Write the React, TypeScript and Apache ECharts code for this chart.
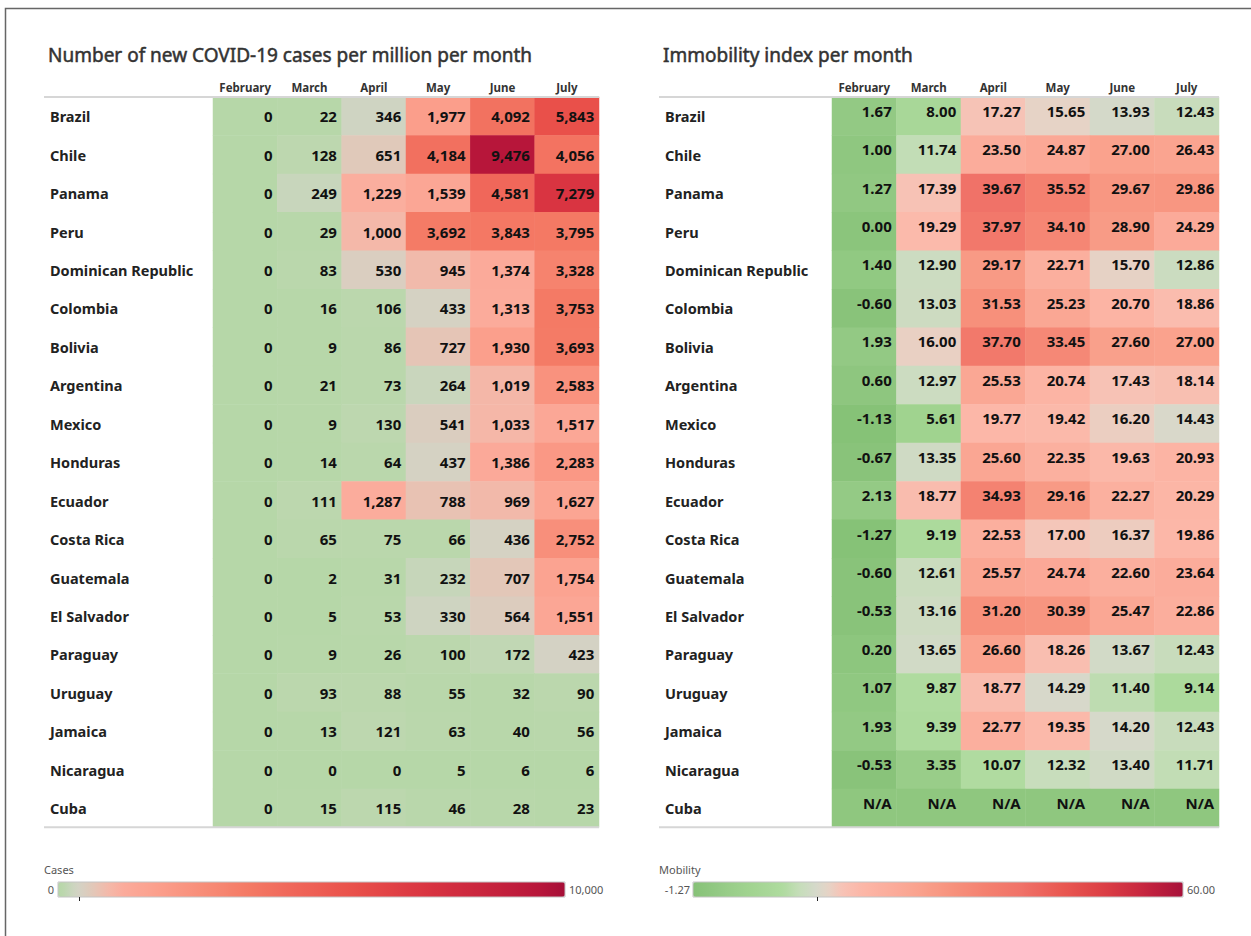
import React, { useEffect, useRef } from 'react';
import * as echarts from 'echarts';

const months = ['February', 'March', 'April', 'May', 'June', 'July'];
const countries = [
  'Brazil', 'Chile', 'Panama', 'Peru', 'Dominican Republic', 'Colombia', 'Bolivia',
  'Argentina', 'Mexico', 'Honduras', 'Ecuador', 'Costa Rica', 'Guatemala',
  'El Salvador', 'Paraguay', 'Uruguay', 'Jamaica', 'Nicaragua', 'Cuba',
];
const cases: number[][] = [
  [0, 22, 346, 1977, 4092, 5843],
  [0, 128, 651, 4184, 9476, 4056],
  [0, 249, 1229, 1539, 4581, 7279],
  [0, 29, 1000, 3692, 3843, 3795],
  [0, 83, 530, 945, 1374, 3328],
  [0, 16, 106, 433, 1313, 3753],
  [0, 9, 86, 727, 1930, 3693],
  [0, 21, 73, 264, 1019, 2583],
  [0, 9, 130, 541, 1033, 1517],
  [0, 14, 64, 437, 1386, 2283],
  [0, 111, 1287, 788, 969, 1627],
  [0, 65, 75, 66, 436, 2752],
  [0, 2, 31, 232, 707, 1754],
  [0, 5, 53, 330, 564, 1551],
  [0, 9, 26, 100, 172, 423],
  [0, 93, 88, 55, 32, 90],
  [0, 13, 121, 63, 40, 56],
  [0, 0, 0, 5, 6, 6],
  [0, 15, 115, 46, 28, 23],
];
const mobility: (number | null)[][] = [
  [1.67, 8.0, 17.27, 15.65, 13.93, 12.43],
  [1.0, 11.74, 23.5, 24.87, 27.0, 26.43],
  [1.27, 17.39, 39.67, 35.52, 29.67, 29.86],
  [0.0, 19.29, 37.97, 34.1, 28.9, 24.29],
  [1.4, 12.9, 29.17, 22.71, 15.7, 12.86],
  [-0.6, 13.03, 31.53, 25.23, 20.7, 18.86],
  [1.93, 16.0, 37.7, 33.45, 27.6, 27.0],
  [0.6, 12.97, 25.53, 20.74, 17.43, 18.14],
  [-1.13, 5.61, 19.77, 19.42, 16.2, 14.43],
  [-0.67, 13.35, 25.6, 22.35, 19.63, 20.93],
  [2.13, 18.77, 34.93, 29.16, 22.27, 20.29],
  [-1.27, 9.19, 22.53, 17.0, 16.37, 19.86],
  [-0.6, 12.61, 25.57, 24.74, 22.6, 23.64],
  [-0.53, 13.16, 31.2, 30.39, 25.47, 22.86],
  [0.2, 13.65, 26.6, 18.26, 13.67, 12.43],
  [1.07, 9.87, 18.77, 14.29, 11.4, 9.14],
  [1.93, 9.39, 22.77, 19.35, 14.2, 12.43],
  [-0.53, 3.35, 10.07, 12.32, 13.4, 11.71],
  [null, null, null, null, null, null],
];
const casesRange = [0, 10000];
const mobilityRange = [-1.27, 60];
const casesTickLabels = ['0', '10,000'];
const mobilityTickLabels = ['-1.27', '60.00'];

const caseStops: [number, string][] = [
  [0, '#b6d7a8'], [120, '#bcd7ae'], [260, '#c9d6bd'], [414, '#d4d3c5'], [650, '#e0c9ba'],
  [1000, '#f4b8a9'], [1300, '#fbab9b'], [2000, '#fb9e8b'], [3000, '#f78a75'],
  [3750, '#f47a65'], [4600, '#f0675a'], [5850, '#e9504a'], [7280, '#d93441'],
  [9476, '#b8163a'], [10000, '#a60f38'],
];
const mobilityStops: [number, string][] = [
  [-1.27, '#86c277'], [2, '#94ca85'], [6, '#a2d491'], [10, '#afdb9f'], [12, '#c5ddb9'],
  [14.2, '#d6d9cb'], [15.7, '#e6d3c6'], [17.3, '#f7c3b6'], [20, '#fcb6a7'],
  [24, '#fbab9a'], [28, '#f99e89'], [31, '#f7927d'], [35.5, '#f4806f'],
  [39.7, '#f07268'], [45, '#e95751'], [50, '#dc3f45'], [55, '#c7263f'], [60, '#a7113a'],
];

const NA_COLOR = '#8fc77f';
const FONT = '"Noto Sans", sans-serif';

function hexToRgb(h: string) {
  const n = parseInt(h.slice(1), 16);
  return [(n >> 16) & 255, (n >> 8) & 255, n & 255];
}
function ramp(stops: [number, string][], min: number, max: number, n: number) {
  const out: string[] = [];
  for (let i = 0; i < n; i++) {
    const v = min + ((max - min) * i) / (n - 1);
    let k = 0;
    while (k < stops.length - 2 && v > stops[k + 1][0]) k++;
    const [v0, c0] = stops[k];
    const [v1, c1] = stops[k + 1];
    const t = Math.max(0, Math.min(1, (v - v0) / (v1 - v0)));
    const a = hexToRgb(c0);
    const b = hexToRgb(c1);
    const c = a.map((x, j) => Math.round(x + (b[j] - x) * t));
    out.push('rgb(' + c.join(',') + ')');
  }
  return out;
}

const ROW_H = 38.44;
const GRID_TOP = 97;
const GRID_H = ROW_H * countries.length;

export default function App() {
  const ref = useRef<HTMLDivElement>(null);
  useEffect(() => {
    if (!ref.current) return;
    const chart = echarts.init(ref.current, null, { renderer: 'svg' });

    const casesData: any[] = [];
    cases.forEach((row, i) => row.forEach((v, j) => casesData.push([j, i, v])));
    const mobData: any[] = [];
    const naData: any[] = [];
    mobility.forEach((row, i) =>
      row.forEach((v, j) => {
        if (v === null) naData.push([j, i, 1]);
        else mobData.push([j, i, v]);
      })
    );

    const valueLabel = {
      show: true,
      fontFamily: FONT,
      fontWeight: 'bold' as const,
      fontSize: 15,
      color: '#111',
    };

    const xAxisBase = (gi: number) => ({
      type: 'category',
      gridIndex: gi,
      data: months,
      position: 'top',
      axisLine: { show: false },
      axisTick: { show: false },
      splitLine: { show: false },
      axisLabel: {
        interval: 0,
        hideOverlap: false,
        fontFamily: FONT,
        fontWeight: 'bold',
        fontSize: 11.5,
        color: '#333',
        margin: 4,
      },
    });
    const yAxisBase = (gi: number, margin: number) => ({
      type: 'category',
      gridIndex: gi,
      data: countries,
      inverse: true,
      axisLine: { show: false },
      axisTick: { show: false },
      splitLine: { show: false },
      axisLabel: {
        interval: 0,
        align: 'left',
        margin,
        fontFamily: FONT,
        fontWeight: 'bold',
        fontSize: 14.5,
        color: '#222',
      },
    });

    const lineStyle = { stroke: '#d6d6d6', lineWidth: 2 };
    const legendText = { fontFamily: FONT, fontSize: 11, fill: '#555' };
    const titleStyle = {
      fontFamily: FONT,
      fontSize: 19,
      fill: '#333',
      stroke: '#333',
      lineWidth: 0.5,
      verticalAlign: 'middle',
    };

    chart.setOption({
      animation: false,
      backgroundColor: '#fff',
      grid: [
        { left: 213, top: GRID_TOP, width: 386, height: GRID_H },
        { left: 832, top: GRID_TOP, width: 387, height: GRID_H },
      ],
      xAxis: [xAxisBase(0), xAxisBase(1)],
      yAxis: [yAxisBase(0, 163), yAxisBase(1, 167)],
      visualMap: [
        {
          type: 'continuous',
          seriesIndex: 0,
          dimension: 2,
          min: casesRange[0],
          max: casesRange[1],
          orient: 'horizontal',
          left: 58,
          top: 882,
          itemWidth: 15,
          itemHeight: 507,
          padding: 0,
          calculable: false,
          hoverLink: false,
          inRange: { color: ramp(caseStops, casesRange[0], casesRange[1], 201) },
        },
        {
          type: 'continuous',
          seriesIndex: 1,
          dimension: 2,
          min: mobilityRange[0],
          max: mobilityRange[1],
          orient: 'horizontal',
          left: 693,
          top: 882,
          itemWidth: 15,
          itemHeight: 490,
          padding: 0,
          calculable: false,
          hoverLink: false,
          inRange: { color: ramp(mobilityStops, mobilityRange[0], mobilityRange[1], 201) },
        },
        {
          type: 'continuous',
          show: false,
          seriesIndex: 2,
          dimension: 2,
          min: 0,
          max: 1,
          inRange: { color: [NA_COLOR, NA_COLOR] },
        },
      ],
      series: [
        {
          type: 'heatmap',
          xAxisIndex: 0,
          yAxisIndex: 0,
          data: casesData,
          label: {
            ...valueLabel,
            position: 'insideRight',
            distance: 5,
            formatter: (p: any) => Number(p.value[2]).toLocaleString('en-US'),
          },
          emphasis: { disabled: true },
        },
        {
          type: 'heatmap',
          xAxisIndex: 1,
          yAxisIndex: 1,
          data: mobData,
          label: {
            ...valueLabel,
            position: 'insideRight',
            distance: 5,
            offset: [0, -5.5],
            formatter: (p: any) => Number(p.value[2]).toFixed(2),
          },
          emphasis: { disabled: true },
        },
        {
          type: 'heatmap',
          xAxisIndex: 1,
          yAxisIndex: 1,
          data: naData,
          label: {
            ...valueLabel,
            position: 'insideRight',
            distance: 5,
            offset: [0, -5.5],
            formatter: () => 'N/A',
          },
          emphasis: { disabled: true },
        },
      ],
      graphic: [
        {
          type: 'rect',
          shape: { x: 5.5, y: 8.5, width: 1400, height: 1100 },
          style: { fill: 'none', stroke: '#666', lineWidth: 1.5 },
          silent: true,
        },
        {
          type: 'text',
          x: 48,
          y: 55,
          style: { ...titleStyle, text: 'Number of new COVID-19 cases per million per month' },
        },
        {
          type: 'text',
          x: 663,
          y: 55,
          style: { ...titleStyle, text: 'Immobility index per month' },
        },
        { type: 'line', shape: { x1: 44, y1: GRID_TOP, x2: 599, y2: GRID_TOP }, style: lineStyle, z: 10 },
        { type: 'line', shape: { x1: 44, y1: GRID_TOP + GRID_H, x2: 599, y2: GRID_TOP + GRID_H }, style: lineStyle, z: 10 },
        { type: 'line', shape: { x1: 659, y1: GRID_TOP, x2: 1219, y2: GRID_TOP }, style: lineStyle, z: 10 },
        { type: 'line', shape: { x1: 659, y1: GRID_TOP + GRID_H, x2: 1219, y2: GRID_TOP + GRID_H }, style: lineStyle, z: 10 },
        // legends
        { type: 'text', x: 44, y: 869, style: { ...legendText, text: 'Cases', verticalAlign: 'middle' } },
        { type: 'text', x: 54, y: 889, style: { ...legendText, text: casesTickLabels[0], align: 'right', verticalAlign: 'middle' } },
        { type: 'text', x: 569, y: 889, style: { ...legendText, text: casesTickLabels[1], verticalAlign: 'middle' } },
        { type: 'rect', shape: { x: 58, y: 882, width: 507, height: 15 }, style: { fill: 'none', stroke: '#c4c4c4', lineWidth: 1 }, z: 10 },
        { type: 'line', shape: { x1: 79.5, y1: 897, x2: 79.5, y2: 901 }, style: { stroke: '#222', lineWidth: 1 }, z: 10 },
        { type: 'text', x: 659, y: 869, style: { ...legendText, text: 'Mobility', verticalAlign: 'middle' } },
        { type: 'text', x: 690, y: 889, style: { ...legendText, text: mobilityTickLabels[0], align: 'right', verticalAlign: 'middle' } },
        { type: 'text', x: 1187, y: 889, style: { ...legendText, text: mobilityTickLabels[1], verticalAlign: 'middle' } },
        { type: 'rect', shape: { x: 693, y: 882, width: 490, height: 15 }, style: { fill: 'none', stroke: '#c4c4c4', lineWidth: 1 }, z: 10 },
        { type: 'line', shape: { x1: 817.5, y1: 897, x2: 817.5, y2: 901 }, style: { stroke: '#222', lineWidth: 1 }, z: 10 },
      ],
    });
    return () => chart.dispose();
  }, []);
  return (
    <div
      ref={ref}
      style={{ position: 'fixed', left: 0, top: 0, width: 1251, height: 936, background: '#fff' }}
    />
  );
}
